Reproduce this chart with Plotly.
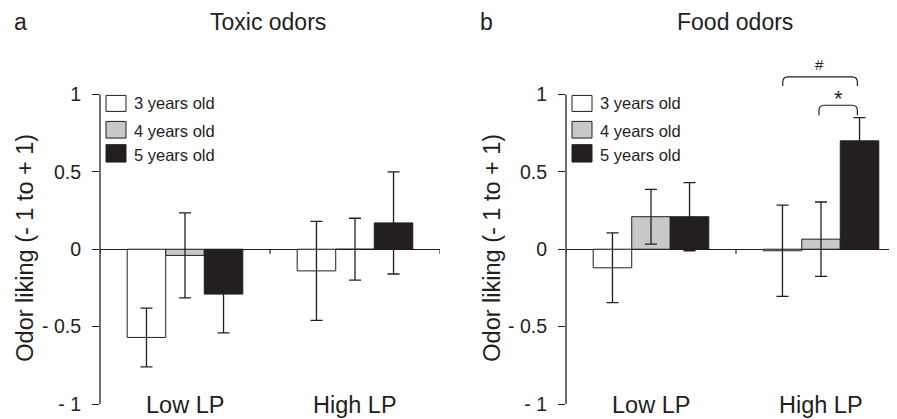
import plotly.graph_objects as go

# ---------------- data ----------------
categories = ["Low LP", "High LP"]
age_groups = ["3 years old", "4 years old", "5 years old"]

toxic_means = {
    "3 years old": [-0.57, -0.14],
    "4 years old": [-0.04, 0.00],
    "5 years old": [-0.29, 0.17],
}
toxic_errors = {
    "3 years old": [0.19, 0.32],
    "4 years old": [0.275, 0.20],
    "5 years old": [0.25, 0.33],
}
food_means = {
    "3 years old": [-0.12, -0.01],
    "4 years old": [0.21, 0.065],
    "5 years old": [0.21, 0.70],
}
food_errors = {
    "3 years old": [0.225, 0.295],
    "4 years old": [0.177, 0.24],
    "5 years old": [0.22, 0.15],
}
y_tickvals = [-1, -0.5, 0, 0.5, 1]
y_ticktext = ["- 1", "- 0.5", "0", "0.5", "1"]

# ---------------- style ----------------
OFF = 8                      # page body margin in the browser
W, H = 897 - OFF, 419 - OFF  # figure fills the rest of the window
MT, MB = 47.5 - OFF, 15
INK = "#231f20"
fills = {"3 years old": "#ffffff", "4 years old": "#c7c8ca", "5 years old": INK}
FONT = "Liberation Sans, Arial, sans-serif"


def pxx(px):
    """screen pixel x -> paper x"""
    return (px - OFF) / W


def pxy(py):
    """screen pixel y -> paper y"""
    return (H - MB - (py - OFF)) / (H - MT - MB)


fig = go.Figure()

panels = [
    ("x", "y", toxic_means, toxic_errors),
    ("x2", "y2", food_means, food_errors),
]
for xa, ya, means, errs in panels:
    for g in age_groups:
        fig.add_trace(go.Bar(
            x=categories, y=means[g], name=g,
            xaxis=xa, yaxis=ya, offsetgroup=g,
            marker=dict(color=fills[g], line=dict(color=INK, width=1)),
            error_y=dict(type="data", array=errs[g], visible=True,
                         color=INK, thickness=1.3, width=6),
            showlegend=False,
        ))

axis_common = dict(showgrid=False, showline=False, zeroline=False,
                   showticklabels=False, ticks="", fixedrange=True)
yaxis_common = dict(range=[-1, 1.3], showgrid=False, showline=False,
                    zeroline=True, zerolinecolor=INK, zerolinewidth=1,
                    tickvals=y_tickvals, ticktext=y_ticktext,
                    ticks="outside", ticklen=7, tickcolor=INK, tickwidth=1.2,
                    ticklabelstandoff=7,
                    tickfont=dict(size=19.5, color=INK, family=FONT))

fig.update_layout(
    width=W, height=H,
    margin=dict(l=0, r=0, t=MT, b=MB, pad=0),
    paper_bgcolor="white", plot_bgcolor="white",
    barmode="group", bargap=0.32, bargroupgap=0,
    xaxis=dict(domain=[pxx(100), pxx(440)], range=[-0.5, 1.5], **axis_common),
    xaxis2=dict(domain=[pxx(566), 1.0],
                range=[-0.5, -0.5 + 2 * (897 - 566) / 340], **axis_common),
    yaxis=dict(anchor="x", **yaxis_common),
    yaxis2=dict(anchor="x2", **yaxis_common),
    font=dict(family=FONT, color=INK),
)

shapes = []
annotations = []
for xa, ya, axis_px, title, letter, title_cx, letter_x, ytitle_x in [
    ("x", "y", 100, "Toxic odors", "a", 268, 12, 25),
    ("x2", "y2", 566, "Food odors", "b", 735, 478, 492),
]:
    # y axis line from -1 to 1
    shapes.append(dict(type="line", xref=xa + " domain", yref=ya,
                       x0=0, x1=0, y0=-1, y1=1,
                       line=dict(color=INK, width=1.3)))
    # small category boundary ticks on the zero line
    for xb in [-0.5, 0.5, 1.5]:
        shapes.append(dict(type="line", xref=xa, yref=ya, x0=xb, x1=xb,
                           y0=0, y1=-0.03, line=dict(color=INK, width=1.2)))
    # legend boxes & labels
    box_rows = [(95, 111), (121, 137.7), (144.3, 161.7)]
    text_rows = [102.3, 131, 154.3]
    for g, (t, b), ty in zip(age_groups, box_rows, text_rows):
        shapes.append(dict(type="rect", xref="paper", yref="paper",
                           x0=pxx(axis_px + 6), x1=pxx(axis_px + 26),
                           y0=pxy(b), y1=pxy(t),
                           fillcolor=fills[g], line=dict(color=INK, width=1)))
        annotations.append(dict(text=g, xref="paper", yref="paper",
                                x=pxx(axis_px + 32), y=pxy(ty),
                                xanchor="left", yanchor="middle",
                                showarrow=False,
                                font=dict(size=16.5, color=INK, family=FONT)))
    # category labels
    for c in categories:
        annotations.append(dict(text=c, xref=xa, yref="paper", x=c,
                                y=pxy(405), xanchor="center", yanchor="middle",
                                showarrow=False,
                                font=dict(size=23.5, color=INK, family=FONT)))
    # panel title & letter
    annotations.append(dict(text=title, xref="paper", yref="paper",
                            x=pxx(title_cx), y=pxy(21), xanchor="center",
                            yanchor="middle", showarrow=False,
                            font=dict(size=23, color=INK, family=FONT)))
    annotations.append(dict(text=letter, xref="paper", yref="paper",
                            x=pxx(letter_x), y=pxy(21), xanchor="left",
                            yanchor="middle", showarrow=False,
                            font=dict(size=23, color=INK, family=FONT)))
    # y axis title
    annotations.append(dict(text="Odor liking (- 1 to + 1)", xref="paper",
                            yref="paper", x=pxx(ytitle_x), y=pxy(247.5),
                            xanchor="center", yanchor="middle", textangle=-90,
                            showarrow=False,
                            font=dict(size=23.5, color=INK, family=FONT)))

# significance brackets (panel b, High LP)
def bracket(x0, x1, ytop, yend, rx=0.03, ry=0.035):
    return (f"M {x0},{yend} L {x0},{ytop - ry} Q {x0},{ytop} {x0 + rx},{ytop} "
            f"L {x1 - rx},{ytop} Q {x1},{ytop} {x1},{ytop - ry} L {x1},{yend}")

shapes.append(dict(type="path", xref="x2", yref="y2",
                   path=bracket(0.775, 1.214, 1.113, 1.054),
                   line=dict(color=INK, width=1.2)))
shapes.append(dict(type="path", xref="x2", yref="y2",
                   path=bracket(0.988, 1.214, 0.93, 0.866),
                   line=dict(color=INK, width=1.2)))
annotations.append(dict(text="#", xref="x2", yref="y2", x=0.99, y=1.195,
                        xanchor="center", yanchor="middle", showarrow=False,
                        font=dict(size=15, color=INK, family=FONT)))
annotations.append(dict(text="*", xref="x2", yref="y2", x=1.1, y=0.975,
                        xanchor="center", yanchor="middle", showarrow=False,
                        font=dict(size=22, color=INK, family=FONT)))

fig.update_layout(shapes=shapes, annotations=annotations)
fig.write_html("out.html")
